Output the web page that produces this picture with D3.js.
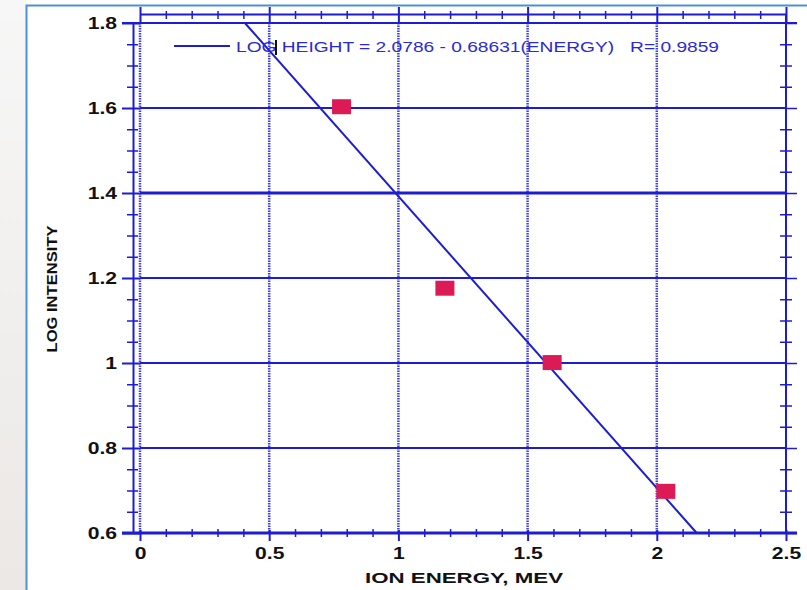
<!DOCTYPE html>
<html>
<head>
<meta charset="utf-8">
<script src="https://cdn.jsdelivr.net/npm/d3@7"></script>
<style>
  html, body { margin: 0; padding: 0; background: #fff; }
  svg { display: block; }
  text { font-family: "Liberation Sans", Arial, sans-serif; }
</style>
</head>
<body>
<svg id="chart" width="807" height="590"></svg>
<script>
// data
const energy = [0.78, 1.18, 1.595, 2.035];
const logIntensity = [1.603, 1.176, 1.001, 0.698];
const xTicks = [0, 0.5, 1, 1.5, 2, 2.5];
const xTickLabels = ['0', '0.5', '1', '1.5', '2', '2.5'];
const yTicks = [0.6, 0.8, 1, 1.2, 1.4, 1.6, 1.8];
const yTickLabels = ['0.6', '0.8', '1', '1.2', '1.4', '1.6', '1.8'];
const xMinor = d3.range(0, 2.5001, 0.1).map(v => +v.toFixed(2)).filter(v => !xTicks.includes(v));
const yMinor = d3.range(0.6, 1.8001, 0.05).map(v => +v.toFixed(2)).filter(v => !yTicks.some(t => Math.abs(t - v) < 1e-6));
const fitIntercept = 2.0786;
const fitSlope = -0.68631;
const fitR = 0.9859;

const blue = '#1c1cd2';
const stretch = 1.32; // text in the picture is wider than normal

const svg = d3.select('#chart');

// page background and frame
const defs = svg.append('defs');
const grad = defs.append('linearGradient').attr('id', 'side').attr('x1', 0).attr('x2', 0).attr('y1', 0).attr('y2', 1);
grad.append('stop').attr('offset', 0).attr('stop-color', '#f7f7f7');
grad.append('stop').attr('offset', 1).attr('stop-color', '#ebe8e5');
svg.append('rect').attr('width', 807).attr('height', 590).attr('fill', '#fff');
svg.append('rect').attr('width', 26).attr('height', 590).attr('fill', 'url(#side)');
svg.append('path').attr('d', 'M26.5,590V5.5H807').attr('fill', 'none')
  .attr('stroke', '#4f8fd6').attr('stroke-width', 2);

const x = d3.scaleLinear().domain([0, 2.5]).range([140, 786]);
const y = d3.scaleLinear().domain([0.6, 1.8]).range([533, 23]);

// vertical dotted grid
svg.append('g').selectAll('line').data(xTicks.slice(0, -1)).join('line')
  .attr('x1', d => x(d)).attr('x2', d => x(d))
  .attr('y1', y(1.8)).attr('y2', y(0.6))
  .attr('stroke', '#2b2bdc').attr('stroke-width', 2.5)
  .attr('stroke-dasharray', '1.5,1').attr('opacity', 0.9);

// horizontal solid grid
svg.append('g').selectAll('line').data(yTicks.slice(1, -1)).join('line')
  .attr('x1', x(0)).attr('x2', x(2.5))
  .attr('y1', d => y(d)).attr('y2', d => y(d))
  .attr('stroke', blue).attr('stroke-width', d => d === 1.4 ? 3 : 2);
svg.append('line').attr('x1', 122).attr('x2', 797).attr('y1', y(1.8)).attr('y2', y(1.8))
  .attr('stroke', blue).attr('stroke-width', 2);

function styleAxis (g) {
  g.select('.domain').attr('stroke', blue).attr('stroke-width', 2);
  g.selectAll('.tick line').attr('stroke', blue).attr('stroke-width', 1.5);
}

// left axis (offset from the plot)
const leftMajor = svg.append('g').attr('transform', 'translate(133,0)')
  .call(d3.axisLeft(y).tickValues(yTicks).tickFormat((d, i) => yTickLabels[i]).tickSizeOuter(0))
  .call(styleAxis);
leftMajor.selectAll('.tick line').attr('x1', 7).attr('x2', -11).attr('stroke-width', 2);
leftMajor.selectAll('.tick text')
  .attr('x', 0).attr('dy', '0.36em')
  .attr('transform', `translate(-16,0) scale(${stretch},1)`)
  .attr('font-size', 16).attr('font-weight', 'bold').attr('fill', '#111');
const leftMinor = svg.append('g').attr('transform', 'translate(133,0)')
  .call(d3.axisLeft(y).tickValues(yMinor).tickFormat('').tickSizeOuter(0))
  .call(styleAxis);
leftMinor.select('.domain').remove();
leftMinor.selectAll('.tick line').attr('x1', 5).attr('x2', -6);

// right axis
const rightMajor = svg.append('g').attr('transform', `translate(${x(2.5)},0)`)
  .call(d3.axisRight(y).tickValues(yTicks).tickFormat('').tickSizeOuter(0))
  .call(styleAxis);
rightMajor.select('.domain').attr('d', `M0,14V${y(0.6)}`);
rightMajor.selectAll('.tick line').attr('x1', 0).attr('x2', 11);
const rightMinor = svg.append('g').attr('transform', `translate(${x(2.5)},0)`)
  .call(d3.axisRight(y).tickValues(yMinor).tickFormat('').tickSizeOuter(0))
  .call(styleAxis);
rightMinor.select('.domain').remove();
rightMinor.selectAll('.tick line').attr('x1', -6).attr('x2', 6);

// top axis
const topMajor = svg.append('g').attr('transform', 'translate(0,14)')
  .call(d3.axisTop(x).tickValues(xTicks).tickFormat('').tickSizeOuter(0))
  .call(styleAxis);
topMajor.selectAll('.tick line').attr('y1', -7).attr('y2', 9).attr('stroke-width', 2);
const topMinor = svg.append('g').attr('transform', 'translate(0,14)')
  .call(d3.axisTop(x).tickValues(xMinor).tickFormat('').tickSizeOuter(0))
  .call(styleAxis);
topMinor.select('.domain').remove();
topMinor.selectAll('.tick line').attr('y1', -3).attr('y2', 5);

// bottom axis
const bottomMajor = svg.append('g').attr('transform', `translate(0,${y(0.6)})`)
  .call(d3.axisBottom(x).tickValues(xTicks).tickFormat((d, i) => xTickLabels[i]).tickSizeOuter(0))
  .call(styleAxis);
bottomMajor.select('.domain').attr('d', 'M122,0H797').attr('stroke-width', 3);
bottomMajor.selectAll('.tick line').attr('y1', -3).attr('y2', 8).attr('stroke-width', 2);
bottomMajor.selectAll('.tick text')
  .attr('y', 0).attr('dy', 0)
  .attr('transform', `translate(0,25.5) scale(${stretch},1)`)
  .attr('font-size', 16).attr('font-weight', 'bold').attr('fill', '#111');
const bottomMinor = svg.append('g').attr('transform', `translate(0,${y(0.6)})`)
  .call(d3.axisBottom(x).tickValues(xMinor).tickFormat('').tickSizeOuter(0))
  .call(styleAxis);
bottomMinor.select('.domain').remove();
bottomMinor.selectAll('.tick line').attr('y1', -4).attr('y2', 4);

// fitted line, clipped to the y range
const fit = e => fitIntercept + fitSlope * e;
const xStart = (1.8 - fitIntercept) / fitSlope;
const xEnd = (0.6 - fitIntercept) / fitSlope;
const line = d3.line().x(d => x(d)).y(d => y(fit(d)));
svg.append('path').attr('d', line([xStart, xEnd]))
  .attr('fill', 'none').attr('stroke', blue).attr('stroke-width', 2);

// data points
svg.append('g').selectAll('rect').data(energy).join('rect')
  .attr('x', d => x(d) - 9.5).attr('y', (d, i) => y(logIntensity[i]) - 7.5)
  .attr('width', 19).attr('height', 15)
  .attr('fill', '#dc1a55');

// legend
svg.append('line').attr('x1', 174).attr('x2', 230).attr('y1', 46).attr('y2', 46)
  .attr('stroke', blue).attr('stroke-width', 2);
svg.append('text').attr('x', 236).attr('y', 52)
  .attr('font-size', 15.5).attr('fill', '#2a2ad4')
  .attr('textLength', 483).attr('lengthAdjust', 'spacingAndGlyphs')
  .style('white-space', 'pre')
  .text(`LOG HEIGHT = ${fitIntercept} - ${Math.abs(fitSlope)}(ENERGY)   R= ${fitR}`);
svg.append('line').attr('x1', 276).attr('x2', 276).attr('y1', 40).attr('y2', 55)
  .attr('stroke', '#111').attr('stroke-width', 2);

// axis titles
svg.append('text').attr('x', 464).attr('y', 583).attr('text-anchor', 'middle')
  .attr('font-size', 15.5).attr('font-weight', 'bold').attr('fill', '#111')
  .attr('textLength', 198).attr('lengthAdjust', 'spacingAndGlyphs')
  .text('ION ENERGY, MEV');
svg.append('text').attr('transform', 'translate(57,289) rotate(-90)').attr('text-anchor', 'middle')
  .attr('font-size', 15.5).attr('font-weight', 'bold').attr('fill', '#111')
  .attr('textLength', 127).attr('lengthAdjust', 'spacingAndGlyphs')
  .text('LOG INTENSITY');
</script>
</body>
</html>
